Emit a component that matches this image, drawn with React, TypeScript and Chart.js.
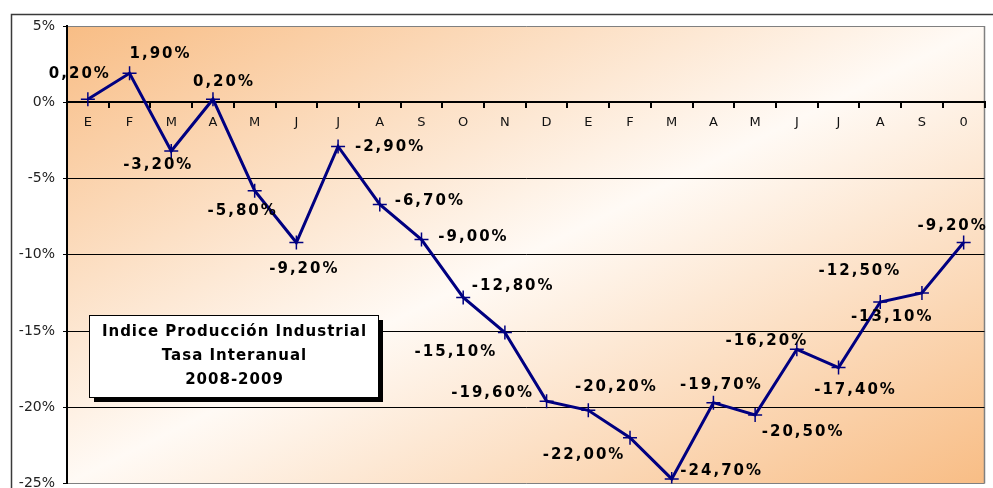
import React, { useEffect, useRef } from "react";
import { Chart, registerables } from "chart.js";

Chart.register(...registerables);

const MONTHS = ["E", "F", "M", "A", "M", "J", "J", "A", "S", "O", "N", "D", "E", "F", "M", "A", "M", "J", "J", "A", "S", "0"];
const VALUES = [0.2, 1.9, -3.2, 0.2, -5.8, -9.2, -2.9, -6.7, -9.0, -12.8, -15.1, -19.6, -20.2, -22.0, -24.7, -19.7, -20.5, -16.2, -17.4, -13.1, -12.5, -9.2];
const LABELS = ["0,20%", "1,90%", "-3,20%", "0,20%", "-5,80%", "-9,20%", "-2,90%", "-6,70%", "-9,00%", "-12,80%", "-15,10%", "-19,60%", "-20,20%", "-22,00%", "-24,70%", "-19,70%", "-20,50%", "-16,20%", "-17,40%", "-13,10%", "-12,50%", "-9,20%"];
const Y_MIN = -25;
const Y_MAX = 5;
const Y_STEP = 5;
const TITLE_LINES = ["Indice Producción Industrial", "Tasa Interanual", "2008-2009"];

// label placement relative to each point (dx, dy) in px
const LABEL_OFFSETS: [number, number][] = [
  [-9, -25], [30, -19], [-14, 14], [10, -17], [-13, 20], [7, 27], [51, 1], [49, -3], [51, -2], [49, -11],
  [-50, 20], [-55, -8], [27, -23], [-47, 17], [49, -8], [7, -18], [47, 17], [-31, -8], [16, 23], [11, 15],
  [-63, -22], [-12, -16],
];

const FONT = "'DejaVu Sans', Verdana, sans-serif";

const decorPlugin = {
  id: "decor",
  beforeDraw(chart: any) {
    const { ctx, chartArea: a } = chart;
    ctx.save();
    // outer frame
    ctx.strokeStyle = "#3a3a3a";
    ctx.lineWidth = 1.5;
    ctx.beginPath();
    ctx.moveTo(11.5, 600);
    ctx.lineTo(11.5, 14.5);
    ctx.lineTo(1200, 14.5);
    ctx.stroke();
    // diagonal gradient background
    const w = a.right - a.left;
    const h = a.bottom - a.top;
    const cx = (a.left + a.right) / 2;
    const cy = (a.top + a.bottom) / 2;
    const k = (w * h) / (w * w + h * h);
    const g = ctx.createLinearGradient(cx - h * k, cy - w * k, cx + h * k, cy + w * k);
    g.addColorStop(0, "#f8bd85");
    g.addColorStop(0.5, "#fffaf5");
    g.addColorStop(1, "#f8bd85");
    ctx.fillStyle = g;
    ctx.fillRect(a.left, a.top, w, h);
    // right border
    ctx.strokeStyle = "#808080";
    ctx.lineWidth = 1.5;
    ctx.beginPath();
    ctx.moveTo(a.right, a.top);
    ctx.lineTo(a.right, a.bottom);
    ctx.stroke();
    ctx.restore();
  },
  afterDatasetsDraw(chart: any) {
    const { ctx } = chart;
    const meta = chart.getDatasetMeta(0);
    ctx.save();
    ctx.font = `bold 15px ${FONT}`;
    (ctx as any).letterSpacing = "2px";
    ctx.fillStyle = "#000000";
    ctx.textAlign = "center";
    ctx.textBaseline = "middle";
    meta.data.forEach((pt: any, i: number) => {
      const [dx, dy] = LABEL_OFFSETS[i];
      ctx.fillText(LABELS[i], pt.x + dx + 1, pt.y + dy);
    });
    ctx.restore();
  },
  afterDraw(chart: any) {
    const { ctx } = chart;
    ctx.save();
    const x = 89, y = 315, bw = 289, bh = 82;
    ctx.fillStyle = "#000000";
    ctx.fillRect(x + 5, y + 5, bw, bh);
    ctx.fillStyle = "#ffffff";
    ctx.fillRect(x, y, bw, bh);
    ctx.strokeStyle = "#000000";
    ctx.lineWidth = 1;
    ctx.strokeRect(x + 0.5, y + 0.5, bw, bh);
    ctx.fillStyle = "#000000";
    ctx.font = `bold 15px ${FONT}`;
    (ctx as any).letterSpacing = "1px";
    ctx.textAlign = "center";
    ctx.textBaseline = "middle";
    TITLE_LINES.forEach((t, i) => ctx.fillText(t, x + bw / 2 + 1, y + 17 + i * 24));
    ctx.restore();
  },
};

export default function App() {
  const ref = useRef<HTMLCanvasElement>(null);
  useEffect(() => {
    if (!ref.current) return;
    const chart = new Chart(ref.current, {
      type: "line",
      data: {
        labels: MONTHS,
        datasets: [
          {
            data: VALUES,
            borderColor: "#000080",
            backgroundColor: "#000080",
            borderWidth: 3,
            tension: 0,
            pointStyle: "cross",
            pointRadius: 7,
            pointBorderWidth: 1.5,
            pointBorderColor: "#000080",
          },
        ],
      },
      options: {
        animation: false,
        responsive: false,
        layout: { padding: { left: 0, top: 26, right: 2, bottom: 6 } },
        plugins: { legend: { display: false }, tooltip: { enabled: false } },
        scales: {
          x: {
            type: "category",
            position: { y: 0 } as any,
            offset: true,
            afterFit: (s: any) => { s.height = 0; s.paddingTop = 0; s.paddingBottom = 0; s.paddingLeft = 0; s.paddingRight = 0; },
            grid: { display: true, offset: true, drawOnChartArea: false, drawTicks: true, tickLength: 5, color: "#000000", lineWidth: 2 },
            border: { display: true, color: "#000000", width: 2 },
            ticks: { color: "#111111", font: { family: FONT, size: 13 }, padding: 8, maxRotation: 0, autoSkip: false },
          },
          y: {
            min: Y_MIN,
            max: Y_MAX,
            afterFit: (s: any) => { s.width = 67; s.paddingTop = 0; s.paddingBottom = 0; s.paddingLeft = 0; s.paddingRight = 0; },
            grid: {
              color: (c: any) => (c.tick && (c.tick.value === Y_MAX || c.tick.value === Y_MIN) ? "#808080" : "#000000"),
              lineWidth: 1,
              tickColor: "#000000",
              tickLength: 4,
              drawTicks: true,
            },
            border: { display: true, color: "#000000", width: 2 },
            ticks: {
              stepSize: Y_STEP,
              color: "#222222",
              font: { family: FONT, size: 14 },
              padding: 8,
              callback: (v: any) => `${v}%`,
            },
          },
        },
      },
      plugins: [decorPlugin],
    });
    return () => chart.destroy();
  }, []);
  return (
    <div style={{ position: "absolute", left: 0, top: 0, width: 993, height: 488, background: "#fff", overflow: "hidden" }}>
      <canvas ref={ref} width={993} height={492} style={{ width: 993, height: 492, display: "block" }} />
    </div>
  );
}
